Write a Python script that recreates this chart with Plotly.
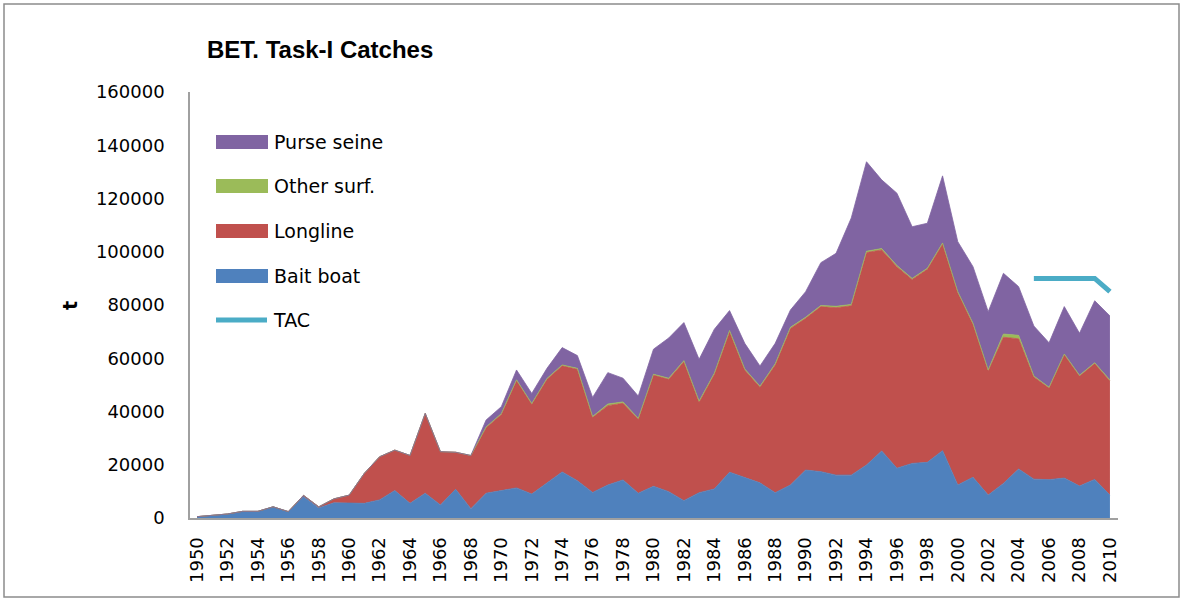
import plotly.graph_objects as go

years = list(range(1950, 2011))

bait_boat = [500, 1000, 1500, 2500, 2500, 4200, 2400, 8000, 3800, 5700,
             5500, 5500, 6800, 10300, 5500, 9300, 4900, 10800, 3500, 9300,
             10300, 11300, 9000, 13300, 17300, 14000, 9600, 12400, 14300, 9300,
             11900, 9900, 6500, 9500, 10900, 17200, 15100, 13200, 9500, 12400,
             18000, 17400, 16100, 16100, 19900, 25200, 18700, 20500, 20900, 25300,
             12400, 15300, 8600, 13000, 18400, 14600, 14400, 15000, 12000, 14500,
             8600]

longline = [0, 0, 0, 0, 0, 0, 0, 500, 400, 1500,
            3100, 11300, 16200, 15200, 18000, 30000, 20000, 13900, 19900, 24600,
            28600, 40300, 33700, 38800, 39900, 41900, 28200, 29800, 28800, 27800,
            41800, 42200, 52200, 34000, 43100, 52800, 40500, 35900, 48000, 58800,
            57000, 62000, 62900, 63600, 79800, 75500, 75700, 69100, 72500, 77600,
            72300, 57500, 46700, 54900, 48900, 38400, 34400, 46300, 41300, 43500,
            42900]

other_surf = [0, 0, 0, 0, 0, 0, 0, 0, 0, 0,
              0, 0, 0, 0, 0, 0, 0, 0, 100, 300,
              300, 300, 300, 300, 300, 300, 300, 600, 500, 300,
              300, 400, 400, 400, 400, 400, 400, 400, 400, 400,
              400, 400, 500, 500, 500, 500, 400, 400, 400, 400,
              300, 300, 300, 1200, 1300, 300, 300, 300, 300, 300,
              300]

purse_seine = [0, 0, 0, 0, 0, 0, 0, 0, 0, 0,
               0, 0, 0, 0, 0, 0, 0, 0, 0, 2600,
               2600, 3700, 3800, 3800, 6500, 4800, 7200, 11800, 8900, 8400,
               9400, 15100, 14300, 15700, 16500, 7500, 9600, 7600, 7700, 6500,
               9600, 16100, 19900, 32500, 33600, 25800, 27200, 19400, 16900, 25200,
               18800, 21300, 21900, 22800, 18300, 18800, 16700, 17800, 15800, 23300,
               24100]

tac_years = [2005, 2006, 2007, 2008, 2009, 2010]
tac = [90000, 90000, 90000, 90000, 90000, 85000]

x_ticks = list(range(1950, 2011, 2))
y_ticks = [0, 20000, 40000, 60000, 80000, 100000, 120000, 140000, 160000]

TICK_FONT = "DejaVu Sans, Liberation Sans, sans-serif"
TITLE_FONT = "Liberation Sans, Arial, sans-serif"

C_BB, C_LL, C_OS, C_PS, C_TAC = "#4F81BD", "#C0504D", "#9BBB59", "#8064A2", "#4BACC6"

series = [
    ("Bait boat", bait_boat, C_BB),
    ("Longline", longline, C_LL),
    ("Other surf.", other_surf, C_OS),
    ("Purse seine", purse_seine, C_PS),
]

fig = go.Figure()
for name, vals, col in series:
    fig.add_trace(go.Scatter(
        x=years, y=vals, name=name, mode="lines",
        stackgroup="catch", fillcolor=col,
        line=dict(color=col, width=0.8),
        showlegend=False,
    ))

fig.add_trace(go.Scatter(
    x=tac_years, y=tac, name="TAC", mode="lines",
    line=dict(color=C_TAC, width=5),
    showlegend=False,
))

L, R, T, B = 190, 1118, 92, 518
W, H = 1182, 599
pw, ph = R - L, B - T

def px(x):
    return (x - L) / pw

def py(y):
    return (B - y) / ph

# manual legend (order as in reference)
legend_items = [("Purse seine", C_PS, 142), ("Other surf.", C_OS, 186),
                ("Longline", C_LL, 231), ("Bait boat", C_BB, 276)]
shapes = [
    dict(type="rect", xref="paper", yref="paper",
         x0=px(4), x1=px(1179), y0=py(4), y1=py(597),
         line=dict(color="#8C8C8C", width=1.5), fillcolor="rgba(0,0,0,0)",
         layer="below"),
]
annotations = [
    dict(text="<b>BET. Task-I Catches</b>", x=px(205), y=py(50),
         xref="paper", yref="paper", xanchor="left", yanchor="middle",
         showarrow=False, font=dict(size=24, family=TITLE_FONT, color="black")),
    dict(text="<b>t</b>", x=px(70), y=py(305), xref="paper", yref="paper",
         xanchor="center", yanchor="middle", textangle=-90,
         showarrow=False, font=dict(size=19, family=TICK_FONT, color="black")),
]
for name, col, yc in legend_items:
    shapes.append(dict(type="rect", xref="paper", yref="paper",
                       x0=px(216), x1=px(268), y0=py(yc - 7), y1=py(yc + 7),
                       line=dict(width=0), fillcolor=col, layer="above"))
    annotations.append(dict(text=name, x=px(272), y=py(yc), xref="paper", yref="paper",
                            xanchor="left", yanchor="middle", showarrow=False,
                            font=dict(size=19, family=TICK_FONT, color="black")))
shapes.append(dict(type="line", xref="paper", yref="paper",
                   x0=px(216), x1=px(267), y0=py(320), y1=py(320),
                   line=dict(color=C_TAC, width=5), layer="above"))
annotations.append(dict(text="TAC", x=px(271), y=py(320), xref="paper", yref="paper",
                        xanchor="left", yanchor="middle", showarrow=False,
                        font=dict(size=19, family=TICK_FONT, color="black")))

fig.update_layout(
    width=W, height=H,
    margin=dict(l=L, r=W - R, t=T, b=H - B, autoexpand=False),
    paper_bgcolor="white", plot_bgcolor="white",
    font=dict(family=TICK_FONT, size=18, color="black"),
    showlegend=False,
    xaxis=dict(
        range=[1949.54, 2010.53], tickmode="array", tickvals=x_ticks,
        ticktext=[str(v) for v in x_ticks], tickangle=-90,
        showgrid=False, zeroline=False, showline=True,
        linecolor="#A0A0A0", linewidth=2, ticks="",
        tickfont=dict(size=18, family=TICK_FONT), ticklabelstandoff=10,
    ),
    yaxis=dict(
        range=[0, 160000], tickmode="array", tickvals=y_ticks,
        ticktext=[str(v) for v in y_ticks],
        showgrid=False, zeroline=False, showline=True,
        linecolor="#A0A0A0", linewidth=1.5, ticks="",
        tickfont=dict(size=18, family=TICK_FONT), ticklabelstandoff=20,
    ),
    annotations=annotations,
    shapes=shapes,
)

fig.write_html("out.html")
